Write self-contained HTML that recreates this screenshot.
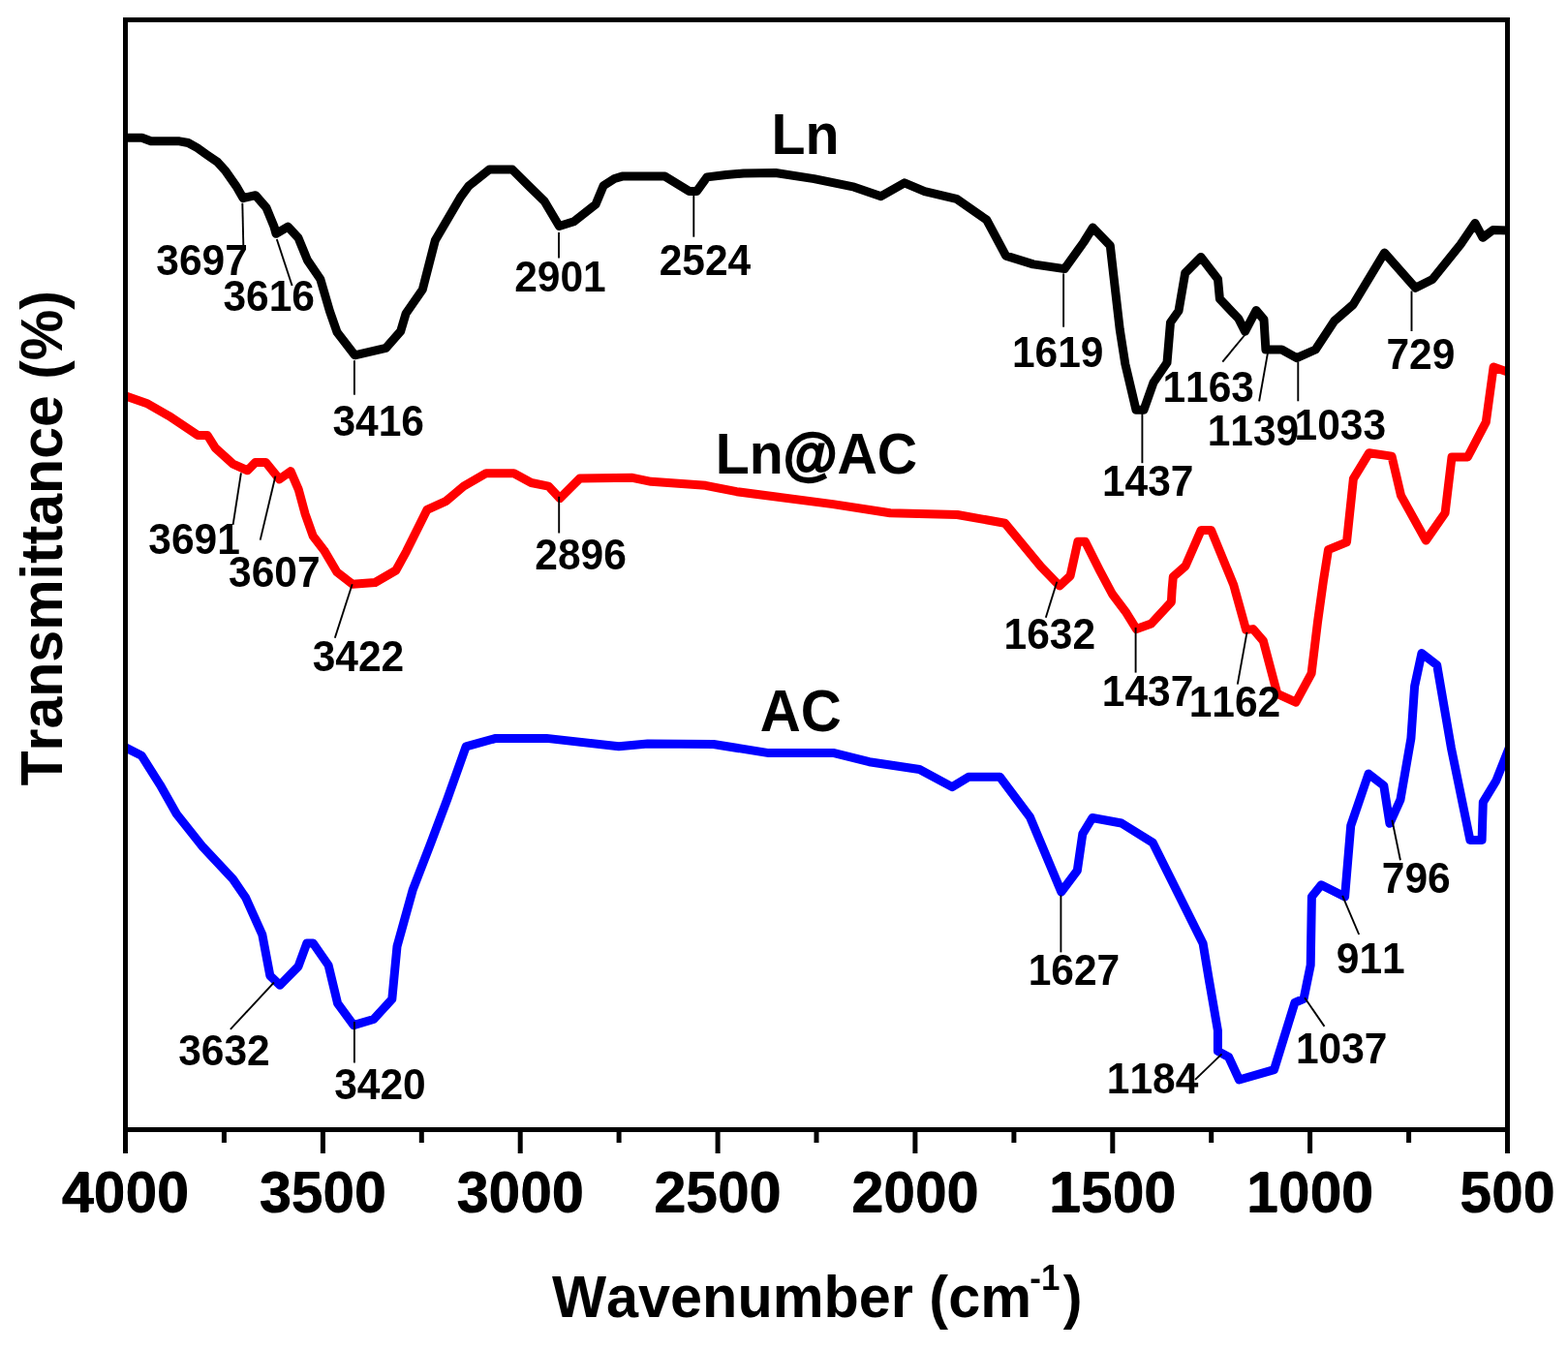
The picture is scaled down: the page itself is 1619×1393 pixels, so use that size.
<!DOCTYPE html>
<html><head><meta charset="utf-8"><title>FTIR spectra</title>
<style>html,body{margin:0;padding:0;background:#fff;}svg{display:block;}text{font-family:"Liberation Sans",Arial,sans-serif;font-weight:bold;font-kerning:none;}</style></head><body>
<svg width="1619" height="1393" viewBox="0 0 1619 1393">
<rect width="1619" height="1393" fill="#fff"/>
<defs><clipPath id="pa"><rect x="129.5" y="20.5" width="1427" height="1146"/></clipPath></defs>
<polyline clip-path="url(#pa)" fill="none" stroke="#000" stroke-width="9" stroke-linejoin="round" points="131.5,142.2 146.5,142.2 155.9,145.8 185.3,145.8 194.3,147.5 203.6,152.6 213.7,159.8 224.5,167.2 233.1,176.8 243.8,192.1 251.0,204.6 263.9,201.7 275.0,214.5 283.0,234.0 285.0,241.3 297.3,234.1 308.0,245.6 317.4,268.6 330.8,288.2 340.5,321.6 348.0,343.1 366.3,366.8 398.6,359.3 413.7,342.0 419.1,323.7 436.3,299.0 449.3,248.3 475.1,204.2 483.7,192.3 505.3,175.1 529.0,175.1 546.2,192.3 562.1,207.8 577.4,233.5 592.6,228.7 615.1,211.0 623.1,191.8 634.4,184.5 642.4,182.1 686.6,182.1 711.5,197.4 719.5,197.4 730.0,182.9 750.0,180.5 767.7,178.9 800.8,178.5 840.5,184.6 882.0,193.2 909.7,202.7 933.9,188.9 954.7,197.6 987.5,205.3 1018.7,227.0 1038.6,264.1 1066.8,272.9 1099.2,277.6 1119.0,250.0 1128.4,235.0 1146.3,253.7 1149.9,285.3 1156.2,340.0 1161.8,375.8 1173.0,423.2 1181.0,423.2 1191.0,395.0 1205.0,374.5 1208.5,333.0 1217.0,321.0 1223.7,282.0 1240.0,265.5 1257.5,288.2 1259.4,308.6 1278.8,329.0 1285.5,342.3 1297.0,320.5 1305.0,330.0 1306.9,361.0 1323.4,361.0 1338.9,369.7 1358.3,361.0 1377.7,331.5 1397.2,314.5 1429.5,261.0 1461.5,297.3 1479.0,288.5 1508.0,252.5 1523.0,230.5 1531.0,245.3 1541.5,237.5 1558.0,238.0"/>
<polyline clip-path="url(#pa)" fill="none" stroke="#f00" stroke-width="9" stroke-linejoin="round" points="130.0,409.0 151.4,416.4 174.5,429.6 204.3,449.5 214.2,449.5 222.4,462.7 240.6,479.2 255.5,485.8 263.7,477.5 274.5,477.5 288.5,494.9 300.1,486.6 308.3,505.6 315.0,530.4 323.2,553.5 334.7,568.4 347.9,590.8 364.0,603.3 387.3,601.5 408.8,589.0 419.6,569.3 441.0,526.3 460.8,517.3 478.7,502.1 502.0,488.7 530.6,488.7 548.5,498.5 566.4,502.1 578.1,514.6 598.7,494.0 653.0,493.3 672.3,497.3 728.5,501.3 760.6,507.7 860.0,520.6 919.2,529.8 988.4,531.5 1037.6,540.2 1074.8,585.1 1094.0,605.0 1105.1,594.6 1112.9,559.2 1120.5,559.2 1135.7,589.4 1148.5,613.5 1163.0,632.8 1173.4,649.6 1188.7,644.0 1209.4,621.6 1210.1,609.0 1211.3,595.6 1224.0,584.5 1240.2,547.4 1250.5,547.4 1273.7,603.9 1286.6,650.4 1293.9,649.6 1304.3,661.7 1318.8,716.3 1338.0,725.1 1354.1,695.4 1360.5,642.4 1366.4,600.0 1371.5,567.6 1390.5,559.8 1397.4,494.4 1413.7,467.7 1437.0,471.1 1446.5,511.6 1472.3,558.1 1492.1,529.7 1499.0,472.0 1515.4,472.0 1534.3,435.8 1542.1,379.0 1556.7,384.1"/>
<polyline clip-path="url(#pa)" fill="none" stroke="#00f" stroke-width="9" stroke-linejoin="round" points="130.0,772.1 146.1,780.2 165.2,810.3 182.3,840.5 209.5,874.7 240.6,907.9 253.7,927.0 270.8,965.2 278.8,1007.4 289.0,1017.3 308.0,998.0 316.8,974.0 323.3,974.0 339.1,996.8 348.6,1036.1 365.1,1058.6 385.8,1052.5 404.8,1031.8 410.0,977.3 426.1,919.2 444.8,870.7 461.6,825.9 481.2,770.8 512.0,762.4 564.3,762.4 638.9,770.8 668.8,768.0 736.7,768.5 793.8,777.6 861.2,777.6 897.5,786.7 949.4,794.5 983.1,812.6 1000.0,802.3 1032.4,802.3 1063.5,843.8 1095.8,921.0 1112.3,899.0 1117.8,861.2 1127.9,844.5 1157.9,850.0 1190.2,870.1 1242.1,974.3 1248.2,1011.0 1257.4,1064.0 1257.4,1085.4 1268.6,1091.5 1279.5,1115.0 1315.5,1104.7 1336.9,1035.4 1346.1,1031.3 1353.2,996.7 1354.4,926.0 1364.2,913.8 1388.6,926.0 1394.7,852.8 1413.0,799.1 1428.8,811.3 1434.9,850.3 1445.9,825.9 1456.9,762.5 1460.6,708.8 1467.9,674.6 1483.7,686.8 1498.4,772.3 1517.9,867.4 1530.1,867.4 1531.3,828.4 1544.7,806.4 1558.2,772.3"/>
<line x1="250.3" y1="209.7" x2="251.3" y2="253.5" stroke="#000" stroke-width="1.9"/>
<line x1="285.8" y1="247.0" x2="301.6" y2="295.0" stroke="#000" stroke-width="1.9"/>
<line x1="365.9" y1="372.2" x2="365.9" y2="407.7" stroke="#000" stroke-width="1.9"/>
<line x1="577.0" y1="240.0" x2="577.0" y2="266.4" stroke="#000" stroke-width="1.9"/>
<line x1="716.3" y1="201.4" x2="716.3" y2="244.7" stroke="#000" stroke-width="1.9"/>
<line x1="1098.1" y1="282.4" x2="1098.1" y2="337.7" stroke="#000" stroke-width="1.9"/>
<line x1="1179.4" y1="425.5" x2="1179.4" y2="478.2" stroke="#000" stroke-width="1.9"/>
<line x1="1285.6" y1="345.5" x2="1262.3" y2="373.6" stroke="#000" stroke-width="1.9"/>
<line x1="1308.9" y1="364.9" x2="1300.1" y2="414.3" stroke="#000" stroke-width="1.9"/>
<line x1="1340.3" y1="373.6" x2="1340.3" y2="414.3" stroke="#000" stroke-width="1.9"/>
<line x1="1457.5" y1="300.5" x2="1457.5" y2="342.0" stroke="#000" stroke-width="1.9"/>
<line x1="248.9" y1="488.3" x2="240.6" y2="541.9" stroke="#000" stroke-width="1.9"/>
<line x1="284.4" y1="491.6" x2="268.7" y2="557.6" stroke="#000" stroke-width="1.9"/>
<line x1="363.7" y1="603.3" x2="345.8" y2="658.8" stroke="#000" stroke-width="1.9"/>
<line x1="577.2" y1="512.8" x2="577.2" y2="550.5" stroke="#000" stroke-width="1.9"/>
<line x1="1091.3" y1="600.7" x2="1079.8" y2="637.7" stroke="#000" stroke-width="1.9"/>
<line x1="1172.6" y1="648.0" x2="1172.6" y2="694.6" stroke="#000" stroke-width="1.9"/>
<line x1="1287.5" y1="652.9" x2="1277.8" y2="706.7" stroke="#000" stroke-width="1.9"/>
<line x1="282.9" y1="1014.5" x2="237.9" y2="1062.9" stroke="#000" stroke-width="1.9"/>
<line x1="365.9" y1="1055.1" x2="365.9" y2="1097.5" stroke="#000" stroke-width="1.9"/>
<line x1="1095.4" y1="924.5" x2="1095.4" y2="983.4" stroke="#000" stroke-width="1.9"/>
<line x1="1261.5" y1="1088.4" x2="1234.0" y2="1114.9" stroke="#000" stroke-width="1.9"/>
<line x1="1347.1" y1="1030.3" x2="1367.5" y2="1059.9" stroke="#000" stroke-width="1.9"/>
<line x1="1386.1" y1="924.8" x2="1403.2" y2="965.0" stroke="#000" stroke-width="1.9"/>
<line x1="1437.4" y1="846.7" x2="1445.9" y2="888.2" stroke="#000" stroke-width="1.9"/>
<rect x="129.5" y="20.5" width="1427" height="1146" fill="none" stroke="#000" stroke-width="5"/>
<line x1="129.5" y1="1166" x2="129.5" y2="1191" stroke="#000" stroke-width="5"/>
<line x1="231.4" y1="1166" x2="231.4" y2="1180" stroke="#000" stroke-width="5"/>
<line x1="333.4" y1="1166" x2="333.4" y2="1191" stroke="#000" stroke-width="5"/>
<line x1="435.3" y1="1166" x2="435.3" y2="1180" stroke="#000" stroke-width="5"/>
<line x1="537.2" y1="1166" x2="537.2" y2="1191" stroke="#000" stroke-width="5"/>
<line x1="639.1" y1="1166" x2="639.1" y2="1180" stroke="#000" stroke-width="5"/>
<line x1="741.1" y1="1166" x2="741.1" y2="1191" stroke="#000" stroke-width="5"/>
<line x1="843.0" y1="1166" x2="843.0" y2="1180" stroke="#000" stroke-width="5"/>
<line x1="944.9" y1="1166" x2="944.9" y2="1191" stroke="#000" stroke-width="5"/>
<line x1="1046.9" y1="1166" x2="1046.9" y2="1180" stroke="#000" stroke-width="5"/>
<line x1="1148.8" y1="1166" x2="1148.8" y2="1191" stroke="#000" stroke-width="5"/>
<line x1="1250.7" y1="1166" x2="1250.7" y2="1180" stroke="#000" stroke-width="5"/>
<line x1="1352.6" y1="1166" x2="1352.6" y2="1191" stroke="#000" stroke-width="5"/>
<line x1="1454.6" y1="1166" x2="1454.6" y2="1180" stroke="#000" stroke-width="5"/>
<line x1="1556.5" y1="1166" x2="1556.5" y2="1191" stroke="#000" stroke-width="5"/>
<text x="129.5" y="1251" font-size="58" text-anchor="middle">4000</text>
<text x="333.4" y="1251" font-size="58" text-anchor="middle">3500</text>
<text x="537.2" y="1251" font-size="58" text-anchor="middle">3000</text>
<text x="741.1" y="1251" font-size="58" text-anchor="middle">2500</text>
<text x="944.9" y="1251" font-size="58" text-anchor="middle">2000</text>
<text x="1148.8" y="1251" font-size="58" text-anchor="middle">1500</text>
<text x="1352.6" y="1251" font-size="58" text-anchor="middle">1000</text>
<text x="1556.5" y="1251" font-size="58" text-anchor="middle">500</text>
<text id="a0" transform="translate(208.60,283.70) scale(1,1.040)" font-size="42.5" text-anchor="middle">3697</text>
<text id="a1" transform="translate(277.70,321.35) scale(1,1.040)" font-size="42.5" text-anchor="middle">3616</text>
<text id="a2" transform="translate(390.65,449.65) scale(1,1.040)" font-size="42.5" text-anchor="middle">3416</text>
<text id="a3" transform="translate(578.50,301.00) scale(1,1.040)" font-size="42.5" text-anchor="middle">2901</text>
<text id="a4" transform="translate(728.00,284.45) scale(1,1.040)" font-size="42.5" text-anchor="middle">2524</text>
<text id="a5" transform="translate(1092.15,378.65) scale(1,1.040)" font-size="42.5" text-anchor="middle">1619</text>
<text id="a6" transform="translate(1185.25,511.65) scale(1,1.040)" font-size="42.5" text-anchor="middle">1437</text>
<text id="a7" transform="translate(1247.65,415.00) scale(1,1.040)" font-size="42.5" text-anchor="middle">1163</text>
<text id="a8" transform="translate(1293.90,460.00) scale(1,1.040)" font-size="42.5" text-anchor="middle">1139</text>
<text id="a9" transform="translate(1383.80,454.40) scale(1,1.040)" font-size="42.5" text-anchor="middle">1033</text>
<text id="a10" transform="translate(1466.85,380.60) scale(1,1.040)" font-size="42.5" text-anchor="middle">729</text>
<text id="a11" transform="translate(200.55,572.25) scale(1,1.040)" font-size="42.5" text-anchor="middle">3691</text>
<text id="a12" transform="translate(283.35,606.35) scale(1,1.040)" font-size="42.5" text-anchor="middle">3607</text>
<text id="a13" transform="translate(370.00,693.40) scale(1,1.040)" font-size="42.5" text-anchor="middle">3422</text>
<text id="a14" transform="translate(599.60,588.00) scale(1,1.040)" font-size="42.5" text-anchor="middle">2896</text>
<text id="a15" transform="translate(1083.80,670.00) scale(1,1.040)" font-size="42.5" text-anchor="middle">1632</text>
<text id="a16" transform="translate(1185.10,729.45) scale(1,1.040)" font-size="42.5" text-anchor="middle">1437</text>
<text id="a17" transform="translate(1275.00,740.30) scale(1,1.040)" font-size="42.5" text-anchor="middle">1162</text>
<text id="a18" transform="translate(231.50,1099.65) scale(1,1.040)" font-size="42.5" text-anchor="middle">3632</text>
<text id="a19" transform="translate(392.40,1135.25) scale(1,1.040)" font-size="42.5" text-anchor="middle">3420</text>
<text id="a20" transform="translate(1109.00,1017.45) scale(1,1.040)" font-size="42.5" text-anchor="middle">1627</text>
<text id="a21" transform="translate(1190.10,1128.60) scale(1,1.040)" font-size="42.5" text-anchor="middle">1184</text>
<text id="a22" transform="translate(1385.25,1098.40) scale(1,1.040)" font-size="42.5" text-anchor="middle">1037</text>
<text id="a23" transform="translate(1415.25,1004.60) scale(1,1.040)" font-size="42.5" text-anchor="middle">911</text>
<text id="a24" transform="translate(1462.30,922.35) scale(1,1.040)" font-size="42.5" text-anchor="middle">796</text>
<text id="t0" transform="translate(129.50,1251.80) scale(1,1.040)" font-size="59.3" text-anchor="middle">4000</text>
<text id="t1" transform="translate(333.36,1251.80) scale(1,1.040)" font-size="59.3" text-anchor="middle">3500</text>
<text id="t2" transform="translate(537.21,1251.80) scale(1,1.040)" font-size="59.3" text-anchor="middle">3000</text>
<text id="t3" transform="translate(741.07,1251.80) scale(1,1.040)" font-size="59.3" text-anchor="middle">2500</text>
<text id="t4" transform="translate(944.93,1251.80) scale(1,1.040)" font-size="59.3" text-anchor="middle">2000</text>
<text id="t5" transform="translate(1148.79,1251.80) scale(1,1.040)" font-size="59.3" text-anchor="middle">1500</text>
<text id="t6" transform="translate(1352.64,1251.80) scale(1,1.040)" font-size="59.3" text-anchor="middle">1000</text>
<text id="t7" transform="translate(1556.50,1251.80) scale(1,1.040)" font-size="59.3" text-anchor="middle">500</text>
<text id="Ln" transform="translate(831.60,159.35) scale(1,1.040)" font-size="57.3" text-anchor="middle">Ln</text>
<text id="LnAC" transform="translate(842.93,488.80) scale(1,1.040)" font-size="57.3" text-anchor="middle">Ln<tspan stroke="#000" stroke-width="2">@</tspan>AC</text>
<text id="AC" transform="translate(826.72,754.65) scale(1,1.040)" font-size="58.2" text-anchor="middle">AC</text>
<text id="xt" transform="translate(817.47,1359.55) scale(1,1.040)" font-size="59.4" text-anchor="middle">Wavenumber (cm</text>
<text id="xs" transform="translate(1078.78,1331.55) scale(1,1.040)" font-size="35.0" text-anchor="middle">-1</text>
<text id="xp" transform="translate(1107.57,1359.55) scale(1,1.040)" font-size="59.4" text-anchor="middle">)</text>
<text id="yt" transform="translate(64.00,555.80) rotate(-90) scale(1,1.020)" font-size="59.0" text-anchor="middle">Transmittance (%)</text>
</svg>
</body></html>
